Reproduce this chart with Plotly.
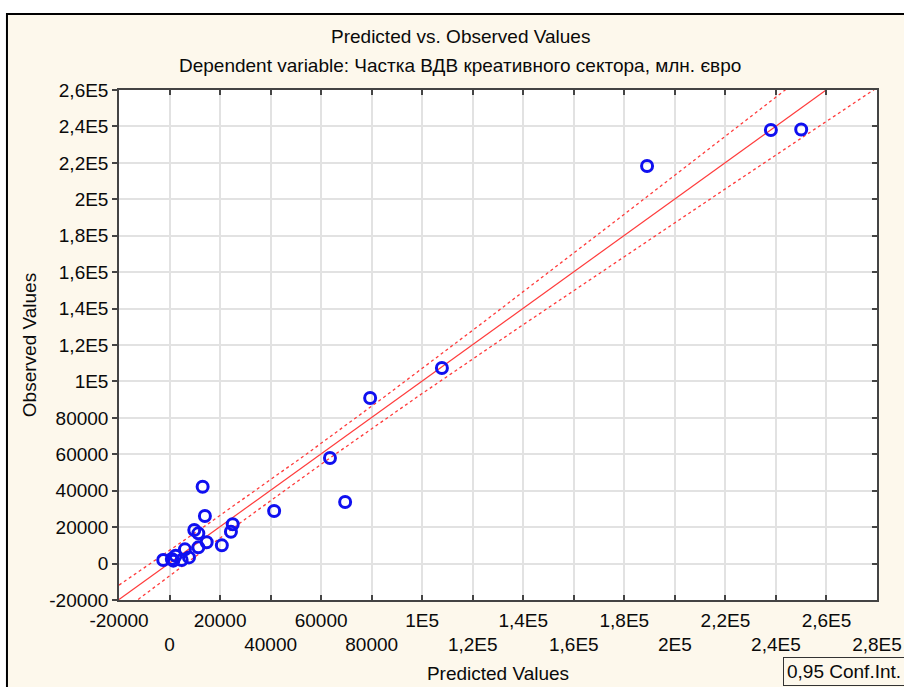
import numpy as np
import plotly.graph_objects as go

# ---- data ----
predicted = [238000, 250000, 189000, 107800, 79400, 63500, 69500, 41400,
             13100, 14000, 9800, 11400, 25000, 24300, 14700, 11400,
             20700, 6100, 2400, 7700, -2500, 900, 4800, 1500]
observed = [238000, 238300, 218300, 107400, 90900, 58000, 33800, 28900,
            42200, 26100, 18400, 16600, 21600, 17500, 11700, 8900,
            10000, 7800, 4300, 3400, 2000, 2500, 2000, 1600]

x_tickvals = list(range(-20000, 280001, 20000))
x_ticklabels = ["-20000", "0", "20000", "40000", "60000", "80000", "1E5", "1,2E5",
                "1,4E5", "1,6E5", "1,8E5", "2E5", "2,2E5", "2,4E5", "2,6E5", "2,8E5"]
y_tickvals = list(range(-20000, 260001, 20000))
y_ticklabels = ["-20000", "0", "20000", "40000", "60000", "80000", "1E5", "1,2E5",
                "1,4E5", "1,6E5", "1,8E5", "2E5", "2,2E5", "2,4E5", "2,6E5"]

title1 = "Predicted vs. Observed Values"
title2 = "Dependent variable: Частка ВДВ креативного сектора, млн. євро"
legend_text = "0,95 Conf.Int."
conf_level_t = 2.074  # t(0.975, n-2)

# ---- regression of observed on predicted with 95% CI for the mean ----
xp = np.array(predicted, float)
yo = np.array(observed, float)
n = len(xp)
slope, intercept = np.polyfit(xp, yo, 1)
resid = yo - (intercept + slope * xp)
s = np.sqrt((resid ** 2).sum() / (n - 2))
xm = xp.mean()
sxx = ((xp - xm) ** 2).sum()
xs = np.linspace(x_tickvals[0], x_tickvals[-1], 300)
yfit = intercept + slope * xs
hw = conf_level_t * s * np.sqrt(1.0 / n + (xs - xm) ** 2 / sxx)

FONT = "Liberation Sans, Arial, sans-serif"
CREAM = "#FDF8EC"
RED = "#FF3B3B"
TXT = "#0A0A0A"

fig = go.Figure()
fig.add_trace(go.Scatter(x=xs, y=yfit, mode="lines", line=dict(color=RED, width=1.2),
                         showlegend=False, hoverinfo="skip"))
fig.add_trace(go.Scatter(x=xs, y=yfit + hw, mode="lines",
                         line=dict(color=RED, width=1.3, dash="3px,3px"),
                         showlegend=False, hoverinfo="skip"))
fig.add_trace(go.Scatter(x=xs, y=yfit - hw, mode="lines",
                         line=dict(color=RED, width=1.3, dash="3px,3px"),
                         showlegend=False, hoverinfo="skip"))
fig.add_trace(go.Scatter(x=predicted, y=observed, mode="markers",
                         marker=dict(symbol="circle-open", size=11, color="#1010F0",
                                     line=dict(width=3, color="#1010F0")),
                         showlegend=False))
# dummy trace for the right-hand (inside ticks) axis
fig.add_trace(go.Scatter(x=[None], y=[None], yaxis="y2", showlegend=False))

# alternating two-row x tick labels
x_ticktext = [lab if i % 2 == 0 else "<br>" + lab for i, lab in enumerate(x_ticklabels)]

axis_common = dict(showline=True, linecolor="#444444", linewidth=1.5,
                   gridcolor="#E2E2E2", gridwidth=1.5, zeroline=False,
                   tickcolor="#444444", tickwidth=1.5, automargin=False,
                   tickfont=dict(family=FONT, size=19, color=TXT))

fig.update_layout(
    width=904, height=687,
    margin=dict(l=119, r=27, t=90, b=87),
    paper_bgcolor="white", plot_bgcolor="white",
    xaxis=dict(range=[-20000, 280000], tickvals=x_tickvals, ticktext=x_ticktext,
               ticks="inside", ticklen=5, mirror="ticks", tickangle=0,
               ticklabelstandoff=2,
               title=dict(text="Predicted Values", font=dict(family=FONT, size=19, color=TXT),
                          standoff=12),
               **axis_common),
    yaxis=dict(range=[-20000, 260000], tickvals=y_tickvals, ticktext=y_ticklabels,
               ticks="outside", ticklen=5, mirror=True,
               title=dict(text="Observed Values", font=dict(family=FONT, size=19, color=TXT),
                          standoff=8),
               **axis_common),
    yaxis2=dict(range=[-20000, 260000], overlaying="y", side="right", tickvals=y_tickvals,
                showticklabels=False, ticks="inside", ticklen=5, tickcolor="#444444",
                tickwidth=1.5, showgrid=False, zeroline=False, showline=False,
                automargin=False),
    showlegend=False,
)

# outer cream frame with black border, and white plot area
fig.add_shape(type="rect", xref="paper", yref="paper", x0=-0.1478, x1=1.2, y0=-0.4, y1=1.149,
              line=dict(color="black", width=2), fillcolor=CREAM, layer="below")
fig.add_shape(type="rect", xref="paper", yref="paper", x0=0, x1=1, y0=0, y1=1,
              line=dict(width=0), fillcolor="white", layer="below")

fig.add_annotation(text=title1, xref="paper", yref="paper", x=0.45, y=1.104,
                   showarrow=False, xanchor="center", yanchor="middle",
                   font=dict(family=FONT, size=19, color=TXT))
fig.add_annotation(text=title2, xref="paper", yref="paper", x=0.45, y=1.049,
                   showarrow=False, xanchor="center", yanchor="middle",
                   font=dict(family=FONT, size=19, color=TXT))
fig.add_annotation(text=legend_text, xref="paper", yref="paper", x=0.876, y=-0.112,
                   showarrow=False, xanchor="left", yanchor="top",
                   bordercolor="#333333", borderwidth=1, borderpad=3, bgcolor=CREAM,
                   font=dict(family=FONT, size=19, color=TXT))

fig.write_html("out.html")
